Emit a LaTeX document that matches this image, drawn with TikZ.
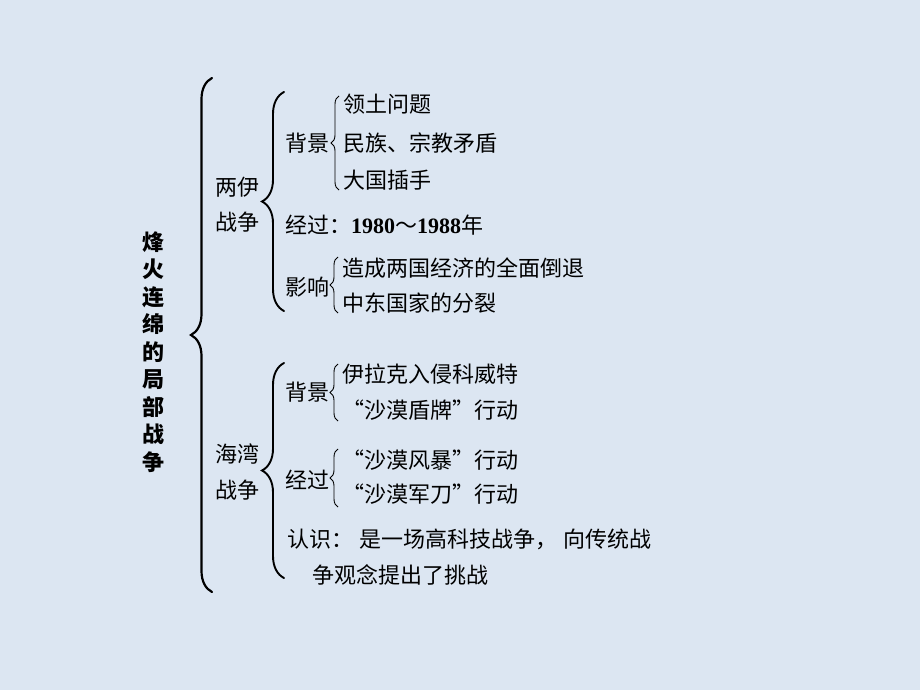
\documentclass[tikz,border=0pt]{standalone}
\usepackage{fontspec}
\setmainfont{Noto Sans CJK SC}
\newfontfamily\numfont{Liberation Serif}
\usetikzlibrary{decorations.pathreplacing}
\definecolor{bgblue}{RGB}{220,230,242}
\tikzset{
  txt/.style={anchor=west, inner sep=0pt, font=\fontsize{22}{26}\selectfont},
  ctxt/.style={anchor=center, inner sep=0pt, font=\fontsize{22}{26}\selectfont},
  bigbrace/.style={decorate, decoration={brace, amplitude=21pt}, line width=2.2pt, line cap=round},
  midbrace/.style={decorate, decoration={brace, amplitude=22pt}, line width=1.9pt, line cap=round},
  smallbrace/.style={decorate, decoration={brace, amplitude=8pt}, line width=0.9pt},
}
\begin{document}
\begin{tikzpicture}[x=1pt,y=-1pt]
\fill[bgblue] (0,0) rectangle (920,690);
\useasboundingbox (0,0) rectangle (920,690);

% title
\node[inner sep=0pt, align=center, font=\fontsize{22}{27.5}\selectfont\bfseries] (title) at (153,352)
  {烽\\火\\连\\绵\\的\\局\\部\\战\\争};

% big brace
\coordinate (bbB) at (212,592);
\coordinate (bbT) at (212,78);
\draw[bigbrace] (bbB) -- (bbT);

% 两伊战争
\node[ctxt] (ly1) at (237,187) {两伊};
\node[ctxt] (ly2) at (237,222) {战争};
\coordinate (b2B) at (284,311);
\coordinate (b2T) at (284,92);
\draw[midbrace] (b2B) -- (b2T);

\node[ctxt] (bj1) at (307,143) {背景};
\coordinate (s1B) at (339,190);
\coordinate (s1T) at (339,96);
\draw[smallbrace] (s1B) -- (s1T);
\node[txt] (i11) at (343,104) {领土问题};
\node[txt] (i12) at (343,143) {民族、宗教矛盾};
\node[txt] (i13) at (343,180) {大国插手};

\node[txt] (jg1) at (285,225) {经过：{\numfont\bfseries 1980}～{\numfont\bfseries 1988}年};

\node[ctxt] (yx) at (307,287) {影响};
\coordinate (s2B) at (338,313);
\coordinate (s2T) at (338,257);
\draw[smallbrace] (s2B) -- (s2T);
\node[txt] (i21) at (342,268) {造成两国经济的全面倒退};
\node[txt] (i22) at (342,303) {中东国家的分裂};

% 海湾战争
\node[ctxt] (hw1) at (237,454) {海湾};
\node[ctxt] (hw2) at (237,490) {战争};
\coordinate (b3B) at (284,578);
\coordinate (b3T) at (284,363);
\draw[midbrace] (b3B) -- (b3T);

\node[ctxt] (bj2) at (307,392) {背景};
\coordinate (s3B) at (338,421);
\coordinate (s3T) at (338,364);
\draw[smallbrace] (s3B) -- (s3T);
\node[txt] (i31) at (342,374) {伊拉克入侵科威特};
\node[txt] (i32) at (342,410) {“沙漠盾牌”行动};

\node[ctxt] (jg2) at (307,480) {经过};
\coordinate (s4B) at (338,507);
\coordinate (s4T) at (338,449);
\draw[smallbrace] (s4B) -- (s4T);
\node[txt] (i41) at (342,460) {“沙漠风暴”行动};
\node[txt] (i42) at (342,494) {“沙漠军刀”行动};

\node[txt] (rs1) at (287,539) {认识：\hspace{6pt}是一场高科技战争，\hspace{6pt}向传统战};
\node[txt] (rs2) at (312,575) {争观念提出了挑战};
\end{tikzpicture}
\end{document}
